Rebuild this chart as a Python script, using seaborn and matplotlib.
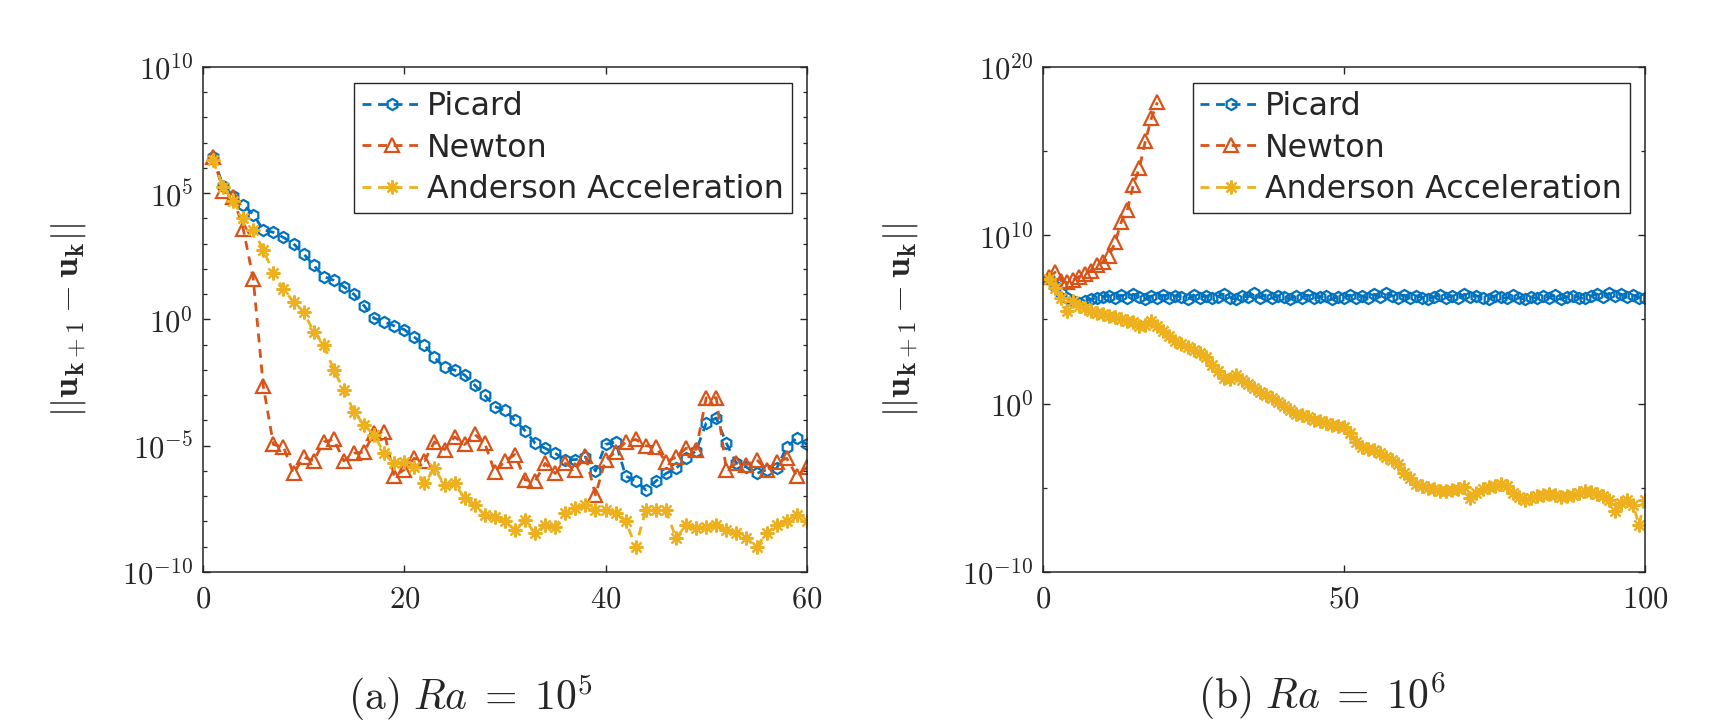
import numpy as np
import matplotlib
matplotlib.use('Agg')
import matplotlib.pyplot as plt
import seaborn as sns
from matplotlib.ticker import FixedLocator, NullFormatter

# log10 of ||u_{k+1} - u_k||, one value per iteration
# (a) Ra = 1e5, 60 iterations
picard_ra5 = [6.45, 5.3, 4.9, 4.55, 4.15, 3.55, 3.45, 3.25, 3.0, 2.6,
              2.15, 1.7, 1.55, 1.3, 1.0, 0.55, 0.05, -0.1, -0.25, -0.4,
              -0.7, -1.0, -1.5, -1.9, -2.0, -2.2, -2.6, -3.0, -3.45, -3.6,
              -4.0, -4.4, -4.9, -5.1, -5.3, -5.55, -5.55, -5.45, -6.0, -4.95,
              -4.85, -6.2, -6.4, -6.75, -6.4, -6.1, -5.9, -5.5, -5.2, -4.1,
              -3.9, -4.9, -5.7, -5.85, -6.1, -5.95, -5.9, -5.05, -4.7, -4.95]
newton_ra5 = [6.45, 5.1, 4.85, 3.6, 1.6, -2.65, -4.95, -5.05, -6.1, -5.45,
              -5.6, -4.85, -4.75, -5.6, -5.3, -5.25, -4.5, -4.45, -6.2, -5.95,
              -5.5, -5.6, -4.85, -5.15, -4.65, -4.95, -4.55, -4.9, -6.05, -5.6,
              -5.35, -6.35, -6.4, -5.7, -6.1, -5.7, -5.95, -5.4, -6.95, -5.55,
              -5.25, -4.85, -4.75, -5.0, -5.05, -5.65, -5.45, -5.1, -5.15, -3.1,
              -3.1, -5.95, -5.7, -5.75, -5.55, -5.95, -5.65, -5.5, -6.2, -5.85]
anderson_ra5 = [6.3, 5.25, 4.7, 4.0, 3.55, 2.75, 1.85, 1.2, 0.7, 0.3,
                -0.48, -1.0, -2.0, -2.8, -3.65, -4.18, -4.57, -5.3, -5.7, -5.63,
                -5.83, -6.49, -5.9, -6.55, -6.49, -7.08, -7.35, -7.74, -7.81, -8.0,
                -8.34, -7.94, -8.47, -8.14, -8.2, -7.68, -7.48, -7.35, -7.54, -7.54,
                -7.68, -8.0, -9.0, -7.54, -7.54, -7.54, -8.67, -8.14, -8.27, -8.2,
                -8.14, -8.34, -8.47, -8.67, -9.0, -8.47, -8.14, -8.0, -7.74, -8.0]

# (b) Ra = 1e6, Newton diverges after 19 iterations
picard_ra6 = [7.4, 7.0, 6.6, 6.3, 6.1, 6.0, 6.1, 6.2, 6.3, 6.35,
              6.4, 6.25, 6.45, 6.3, 6.5, 6.35, 6.2, 6.4, 6.3, 6.45,
              6.25, 6.4, 6.35, 6.2, 6.45, 6.3, 6.4, 6.25, 6.35, 6.5,
              6.3, 6.2, 6.4, 6.35, 6.55, 6.3, 6.45, 6.25, 6.4, 6.35,
              6.2, 6.4, 6.3, 6.45, 6.25, 6.35, 6.4, 6.2, 6.35, 6.3,
              6.45, 6.3, 6.4, 6.25, 6.5, 6.35, 6.55, 6.4, 6.3, 6.45,
              6.25, 6.4, 6.3, 6.2, 6.35, 6.45, 6.3, 6.4, 6.25, 6.5,
              6.35, 6.4, 6.3, 6.2, 6.4, 6.35, 6.25, 6.45, 6.3, 6.2,
              6.35, 6.25, 6.4, 6.3, 6.45, 6.2, 6.35, 6.4, 6.3, 6.25,
              6.4, 6.5, 6.35, 6.55, 6.4, 6.5, 6.35, 6.45, 6.3, 6.25]
newton_ra6 = [7.5, 7.8, 7.3, 7.2, 7.35, 7.55, 7.7, 7.9, 8.25, 8.4,
              8.8, 9.6, 10.8, 11.5, 13.0, 14.0, 15.6, 16.95, 17.9]
anderson_ra6 = [7.4, 6.9, 6.3, 5.5, 6.1, 5.8, 5.7, 5.5, 5.4, 5.35,
                5.2, 5.15, 5.0, 4.9, 4.85, 4.6, 4.7, 4.9, 4.6, 4.3,
                4.0, 3.7, 3.55, 3.35, 3.2, 3.0, 2.75, 2.3, 1.95, 1.5,
                1.45, 1.7, 1.4, 1.15, 0.95, 0.7, 0.5, 0.35, 0.1, -0.15,
                -0.35, -0.6, -0.7, -0.8, -0.95, -1.05, -1.15, -1.25, -1.3, -1.4,
                -1.75, -2.3, -2.55, -2.7, -2.75, -2.95, -3.15, -3.35, -3.6, -4.1,
                -4.4, -4.8, -4.9, -5.0, -5.1, -5.2, -5.2, -5.15, -5.1, -4.95,
                -5.6, -5.3, -5.1, -4.95, -4.9, -4.75, -4.9, -5.3, -5.55, -5.7,
                -5.6, -5.5, -5.4, -5.35, -5.45, -5.55, -5.5, -5.4, -5.3, -5.2,
                -5.25, -5.35, -5.5, -5.75, -6.4, -5.9, -5.7, -6.0, -7.2, -5.7]

methods = ['Picard', 'Newton', 'Anderson Acceleration']
colors = {'Picard': '#0072BD', 'Newton': '#D95319', 'Anderson Acceleration': '#EDB120'}
markers = {'Picard': 'h', 'Newton': '^', 'Anderson Acceleration': (8, 2, 0)}
msizes = {'Picard': 8, 'Newton': 9.5, 'Anderson Acceleration': 10}

sns.set_theme(style='ticks')
plt.rcParams['font.family'] = ['DejaVu Sans']
plt.rcParams['mathtext.fontset'] = 'cm'
plt.rcParams['lines.dashed_pattern'] = (3.2, 2.4)

spine_col = '#262626'


def draw_panel(ax, series, xmax, xticks, ymin, ymax, major_exp, minor_exp):
    for name, vals in zip(methods, series):
        it = np.arange(1, len(vals) + 1)
        sns.lineplot(x=it, y=np.power(10.0, vals), ax=ax, color=colors[name],
                     marker=markers[name], ms=msizes[name], mfc='none',
                     mec=colors[name], mew=1.6, linestyle='--', lw=2.0,
                     label=name, estimator=None, sort=False)
    ax.set_yscale('log')
    ax.set_xlim(0, xmax)
    ax.set_ylim(10.0 ** ymin, 10.0 ** ymax)

    ax.set_xticks(xticks)
    ax.set_xticklabels([r'$%d$' % t for t in xticks])
    ax.set_yticks([10.0 ** e for e in major_exp])
    ax.set_yticklabels([r'$10^{%d}$' % e for e in major_exp])
    ax.yaxis.set_minor_locator(FixedLocator([10.0 ** e for e in minor_exp]))
    ax.yaxis.set_minor_formatter(NullFormatter())

    ax.tick_params(which='major', direction='in', top=True, right=True,
                   length=5, width=1, color=spine_col, labelsize=22)
    ax.tick_params(which='minor', direction='in', top=False, right=True,
                   length=3, width=0.9, color=spine_col)
    ax.tick_params(axis='x', pad=9)
    ax.tick_params(axis='y', pad=7)
    for sp in ax.spines.values():
        sp.set_visible(True)
        sp.set_color(spine_col)
        sp.set_linewidth(1.1)

    ax.set_xlabel('')
    ax.set_ylabel(r'$||\mathbf{u}_\mathbf{k+1} - \mathbf{u}_\mathbf{k}||$', fontsize=26)
    ax.legend(loc='upper right', bbox_to_anchor=(0.975, 0.968), fontsize=22.8,
              frameon=True, fancybox=False, edgecolor=spine_col, framealpha=1,
              borderpad=0.25, labelspacing=0.33, handlelength=1.9,
              handletextpad=0.15, borderaxespad=0)
    ax.get_legend().get_frame().set_linewidth(1.0)


fig = plt.figure(figsize=(17.3, 7.22), dpi=100)
ax1 = fig.add_axes([0.1173, 0.2078, 0.3491, 0.6994])
ax2 = fig.add_axes([0.6029, 0.2078, 0.3480, 0.6994])

draw_panel(ax1, [picard_ra5, newton_ra5, anderson_ra5], 60, [0, 20, 40, 60],
           -10, 10, [-10, -5, 0, 5, 10], [e for e in range(-10, 11) if e % 5])
draw_panel(ax2, [picard_ra6, newton_ra6, anderson_ra6], 100, [0, 50, 100],
           -10, 20, [-10, 0, 10, 20], [-5, 5, 15])

ax1.yaxis.set_label_coords(-0.19, 0.5)
ax2.yaxis.set_label_coords(-0.205, 0.5)

fig.text(0.272, 0.035, r'$\mathrm{(a)}\ Ra\;=\;10^5$', ha='center', va='center', fontsize=30)
fig.text(0.764, 0.035, r'$\mathrm{(b)}\ Ra\;=\;10^6$', ha='center', va='center', fontsize=30)

fig.savefig('out.png', dpi=100, facecolor='white')
